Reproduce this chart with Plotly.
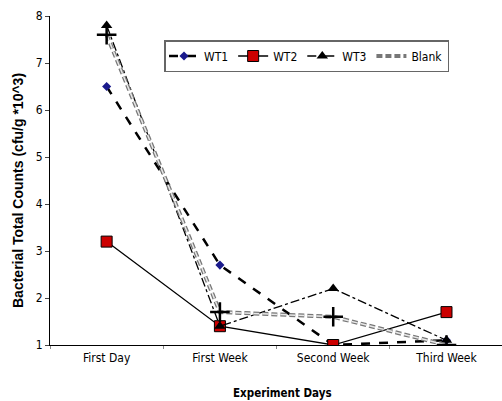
import plotly.graph_objects as go

categories = ["First Day", "First Week", "Second Week", "Third Week"]
wt1 = [6.5, 2.7, 1.0, 1.1]
wt2 = [3.2, 1.4, 1.0, 1.7]
wt3 = [7.8, 1.4, 2.2, 1.1]
blank = [7.6, 1.7, 1.6, 1.0]

NARROW = "DejaVu Sans Condensed, Liberation Sans Narrow, sans-serif"

fig = go.Figure()
fig.add_trace(go.Scatter(x=categories, y=wt1, name="WT1", mode="lines+markers",
                         line=dict(color="black", width=2.5, dash="dash"),
                         marker=dict(symbol="diamond", size=7, color="#1a1a8c")))
fig.add_trace(go.Scatter(x=categories, y=wt2, name="WT2", mode="lines+markers",
                         line=dict(color="black", width=1.3),
                         marker=dict(symbol="square", size=11, color="#cc0000",
                                     line=dict(color="black", width=1))))
fig.add_trace(go.Scatter(x=categories, y=wt3, name="WT3", mode="lines+markers",
                         line=dict(color="black", width=1.3, dash="dashdot"),
                         marker=dict(symbol="triangle-up", size=10, color="black")))
fig.add_trace(go.Scatter(x=categories, y=blank, name="Blank", mode="lines",
                         line=dict(color="#777777", width=4, dash="6px,3px"),
                         legendgroup="b"))
fig.add_trace(go.Scatter(x=categories, y=blank, name="Blank", mode="lines+markers",
                         line=dict(color="#e8e8e8", width=1.5, dash="6px,3px"),
                         marker=dict(symbol="cross-thin", size=14, color="black",
                                     line=dict(color="black", width=2.5)),
                         showlegend=False, legendgroup="b"))

fig.update_layout(
    width=502, height=401,
    margin=dict(l=50, r=0, t=16, b=56, autoexpand=False),
    plot_bgcolor="white", paper_bgcolor="white",
    font=dict(family=NARROW, size=11, color="black"),
    showlegend=True,
    legend=dict(orientation="h", x=(164 - 50) / 452, y=(345 - 40) / 329,
                xanchor="left", yanchor="top",
                bordercolor="#666666", borderwidth=1.5, bgcolor="white",
                font=dict(family=NARROW, size=12), itemwidth=30,
                tracegroupgap=0),
    xaxis=dict(range=[-0.5, 3.49], showline=True, linecolor="black", linewidth=1,
               ticks="outside", tickson="boundaries", ticklen=3, tickcolor="#888888",
               showgrid=False, zeroline=False, automargin=False,
               ticklabelstandoff=2,
               tickfont=dict(family=NARROW, size=12)),
    yaxis=dict(range=[1, 8], dtick=1, showline=True, linecolor="black", linewidth=1,
               ticks="outside", ticklen=4, showgrid=False, zeroline=False, automargin=False,
               tickfont=dict(family=NARROW, size=12)),
    annotations=[
        dict(text="<b>Experiment Days</b>", xref="paper", yref="paper",
             x=(282 - 50) / 452, y=-(393 - 345) / 329, xanchor="center", yanchor="middle",
             showarrow=False, font=dict(family=NARROW, size=11.5)),
        dict(text="<b>Bacterial Total Counts (cfu/g *10^3)</b>", xref="paper", yref="paper",
             x=-(50 - 18) / 452, y=(345 - 191) / 329, xanchor="center", yanchor="middle",
             textangle=-90, showarrow=False,
             font=dict(family="Liberation Sans, Arial", size=14)),
    ],
)

fig.write_html("out.html", config={"displayModeBar": False},
               post_script="document.body.style.margin='0px';")
